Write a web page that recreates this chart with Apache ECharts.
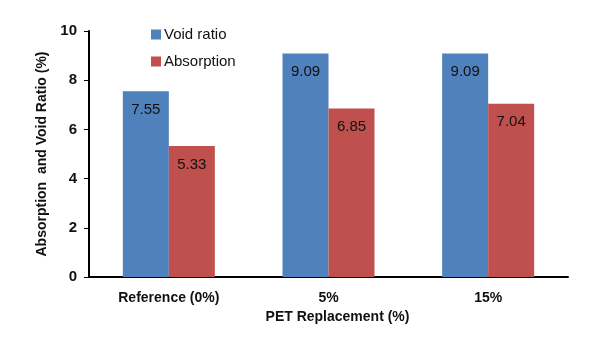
<!DOCTYPE html>
<html>
<head>
<meta charset="utf-8">
<script src="https://cdn.jsdelivr.net/npm/echarts@6/dist/echarts.min.js"></script>
<style>
  html, body { margin: 0; padding: 0; background: #fff; }
  #chart { width: 590px; height: 344px; }
</style>
</head>
<body>
<div id="chart"></div>
<script>
// data
var categories = ['Reference (0%)', '5%', '15%'];
var voidRatio = [7.55, 9.09, 9.09];
var absorption = [5.33, 6.85, 7.04];

var font = '"Liberation Sans", Arial, sans-serif';

var chart = echarts.init(document.getElementById('chart'));

function barLabel() {
  return {
    show: true,
    position: 'insideTop',
    distance: 11,
    color: '#111',
    fontSize: 15,
    fontFamily: font,
    formatter: function (p) { return p.value.toFixed(2); }
  };
}

chart.setOption({
  animation: false,
  textStyle: { fontFamily: font },
  grid: { left: 89, right: 22, top: 31, bottom: 67 },
  legend: {
    orient: 'vertical',
    left: 146,
    top: 22,
    itemWidth: 10,
    itemHeight: 10,
    itemGap: 12,
    icon: 'rect',
    textStyle: { fontSize: 15, color: '#111', fontFamily: font, padding: [0, 0, 0, -2] },
    data: ['Void ratio', 'Absorption']
  },
  xAxis: {
    type: 'category',
    data: categories,
    name: 'PET Replacement (%)',
    nameLocation: 'middle',
    nameGap: 33,
    nameTextStyle: { fontWeight: 'bold', fontSize: 14, color: '#111', padding: [0, 0, 0, 18] },
    axisLine: { lineStyle: { color: '#000', width: 2 } },
    axisTick: { show: false },
    axisLabel: { fontWeight: 'bold', fontSize: 14, color: '#111', margin: 14 }
  },
  yAxis: {
    type: 'value',
    min: 0,
    max: 10,
    interval: 2,
    name: 'Absorption  and Void Ratio (%)',
    nameLocation: 'middle',
    nameGap: 36,
    nameTextStyle: { fontWeight: 'bold', fontSize: 14, color: '#111' },
    axisLine: { show: true, lineStyle: { color: '#000', width: 2 } },
    axisTick: { show: true, length: 5, lineStyle: { color: '#000', width: 1 } },
    splitLine: { show: false },
    axisLabel: { fontWeight: 'bold', fontSize: 15, color: '#111', margin: 12 }
  },
  series: [
    {
      name: 'Void ratio',
      type: 'bar',
      data: voidRatio,
      barWidth: 46,
      barGap: '0%',
      itemStyle: { color: '#4F81BD' },
      label: barLabel()
    },
    {
      name: 'Absorption',
      type: 'bar',
      data: absorption,
      barWidth: 46,
      barGap: '0%',
      itemStyle: { color: '#C0504D' },
      label: barLabel()
    }
  ]
});
</script>
</body>
</html>
